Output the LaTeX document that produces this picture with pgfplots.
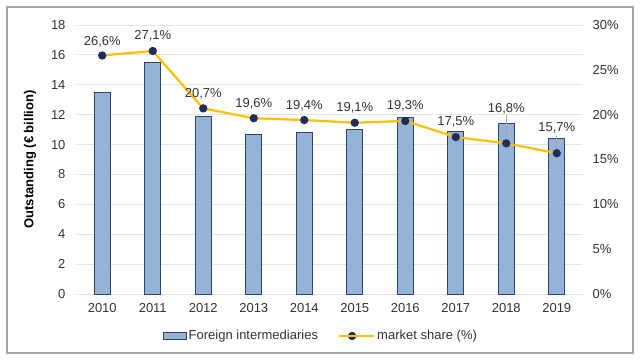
\documentclass[border=0pt]{standalone}
\usepackage{fontspec}
\setmainfont{Liberation Sans}
\usepackage{pgfplots}
\pgfplotsset{compat=1.18}
\usepackage{pgfplotstable}
\definecolor{barfill}{HTML}{95B3D7}
\definecolor{bardraw}{HTML}{2F4270}
\definecolor{linecol}{HTML}{FFC000}
\definecolor{markcol}{HTML}{1F2D5A}
\definecolor{gridcol}{HTML}{E4E4E4}
\definecolor{txt}{HTML}{333333}
\definecolor{framecol}{HTML}{A6A6A6}

\pgfplotstableread{
x out
0 13.5
1 15.5
2 11.9
3 10.7
4 10.8
5 11.0
6 11.8
7 10.9
8 11.4
9 10.4
}\bars

\pgfplotstableread{
x share lab dy
0 26.6 {26,6\%} 10
1 27.1 {27,1\%} 12
2 20.7 {20,7\%} 11
3 19.6 {19,6\%} 11
4 19.4 {19,4\%} 11
5 19.1 {19,1\%} 11
6 19.3 {19,3\%} 11
7 17.5 {17,5\%} 12
8 16.8 {16,8\%} 31
9 15.7 {15,7\%} 22
}\share

\begin{document}
\begin{tikzpicture}[font=\fontsize{13pt}{15pt}\selectfont, text=txt]
\useasboundingbox[fill=white] (0,0) rectangle (642pt,362pt);
\draw[framecol, line width=1.2pt] (7pt,9pt) rectangle (633pt,355pt);
\pgfplotsset{
  base/.style={
    scale only axis, width=505pt, height=269pt,
    at={(77pt,68pt)}, anchor=south west,
    xmin=-0.5, xmax=9.5,
    axis line style={draw=none},
    tick style={draw=none},
    /pgf/number format/assume math mode=true,
    font=\fontsize{13pt}{15pt}\selectfont,
    tick label style={text=txt},
  }
}
\begin{axis}[base,
  ymin=0, ymax=18, ytick={0,2,...,18},
  ymajorgrids, grid style={gridcol, line width=0.8pt},
  xtick={0,...,9},
  xticklabels={2010,2011,2012,2013,2014,2015,2016,2017,2018,2019},
  xticklabel style={yshift=-6pt},
  yticklabel style={xshift=-8pt},
  ylabel={\bfseries Outstanding (€ billion)},
  ylabel style={at={(axis description cs:-0.093,0.5)}, anchor=center, text=black},
]
\addplot[ybar, bar width=16pt, fill=barfill, draw=bardraw, line width=0.9pt] table[x=x, y=out] {\bars};
\end{axis}

\begin{axis}[base,
  ymin=0, ymax=30, ytick={0,5,...,30},
  yticklabels={0\%,5\%,10\%,15\%,20\%,25\%,30\%},
  axis y line*=right,
  hide x axis,
  yticklabel style={xshift=7pt},
  legend style={at={(axis description cs:0.483,-0.156)}, anchor=center, draw=none, fill=none,
    legend columns=2, font=\fontsize{13pt}{15pt}\selectfont, text=txt,
    /tikz/every even column/.append style={column sep=18pt}},
  legend cell align=left,
]
\addlegendimage{legend image code/.code={\draw[fill=barfill, draw=bardraw, line width=0.8pt] (0pt,-3.5pt) rectangle (23pt,3.5pt);}}
\addlegendentry{Foreign intermediaries}
\draw[gray!70, line width=0.6pt] (axis cs:8,16.8) -- ++(0pt,28pt);
\draw[gray!70, line width=0.6pt] (axis cs:9,15.7) -- ++(0pt,17pt);
\addplot[color=linecol, line width=2.2pt, mark=*, mark size=3pt,
  mark options={fill=markcol, draw=markcol},
  point meta=explicit symbolic,
  visualization depends on={\thisrow{dy} \as \dy},
  nodes near coords={\pgfplotspointmeta},
  every node near coord/.style={anchor=base, yshift=\dy pt, text=txt, font=\fontsize{13pt}{15pt}\selectfont},
  legend image code/.code={\draw[linecol, line width=2pt] (0pt,0pt) -- (26pt,0pt); \fill[markcol] (13pt,0pt) circle (3pt); \path (0pt,0pt) -- (35pt,0pt);},
] table[x=x, y=share, meta=lab] {\share};
\addlegendentry{market share (\%)}
\end{axis}
\end{tikzpicture}
\end{document}
